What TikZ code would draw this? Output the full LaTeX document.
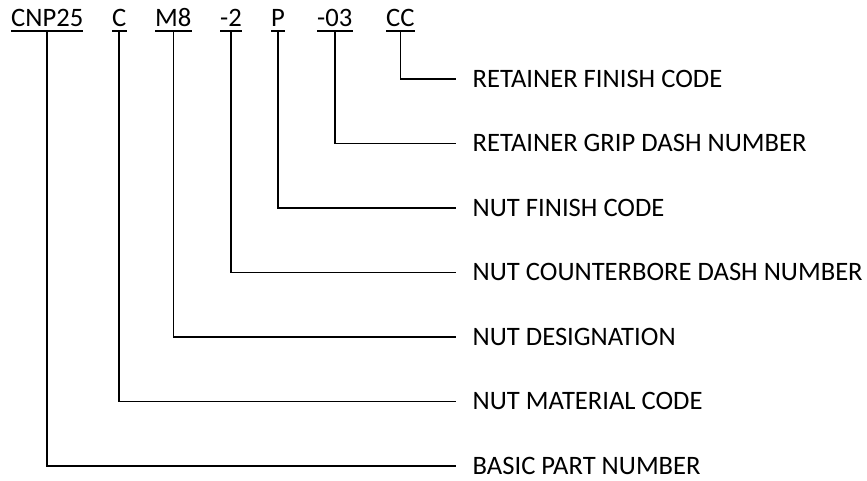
\documentclass[tikz,border=0pt]{standalone}
\usepackage{fontspec}
\setmainfont{Carlito}
\begin{document}
\begin{tikzpicture}[x=1pt,y=-1pt,
	every node/.style={font=\fontsize{26.6}{31}\selectfont},
	part/.style={anchor=base west,inner xsep=0pt,inner ysep=4.3pt,text height=17pt,text depth=0pt},
	field/.style={anchor=west,inner xsep=16.5pt,inner ysep=0pt,text height=17pt,text depth=0pt},
	lead/.style={line width=1.6pt}]
	\useasboundingbox (0,0) rectangle (867,481);
	% part number code
	\node[part] (cnp) at (11,26.7) {CNP25};
	\node[part] (mat) at (112,26.7) {C};
	\node[part] (des) at (155,26.7) {M8};
	\node[part] (cbore) at (220,26.7) {-2};
	\node[part] (nfin) at (271,26.7) {P};
	\node[part] (grip) at (317,26.7) {-03};
	\node[part] (rfin) at (386,26.7) {CC};
	% field names
	\node[field] (rfinL) at (456,79) {RETAINER FINISH CODE};
	\node[field] (gripL) at (456,143.5) {RETAINER GRIP DASH NUMBER};
	\node[field] (nfinL) at (456,208) {NUT FINISH CODE};
	\node[field] (cboreL) at (456,272.4) {NUT COUNTERBORE DASH NUMBER};
	\node[field] (desL) at (456,336.8) {NUT DESIGNATION};
	\node[field] (matL) at (456,401.3) {NUT MATERIAL CODE};
	\node[field] (cnpL) at (456,465.7) {BASIC PART NUMBER};
	% underlines
	\draw [lead] (cnp.south west) -- (cnp.south east);
	\draw [lead] (mat.south west) -- (mat.south east);
	\draw [lead] (des.south west) -- (des.south east);
	\draw [lead] (cbore.south west) -- (cbore.south east);
	\draw [lead] (nfin.south west) -- (nfin.south east);
	\draw [lead] (grip.south west) -- (grip.south east);
	\draw [lead] (rfin.south west) -- (rfin.south east);
	% leaders
	\draw [lead] (rfin.south) |- (rfinL.west);
	\draw [lead] (grip.south) |- (gripL.west);
	\draw [lead] (nfin.south) |- (nfinL.west);
	\draw [lead] (cbore.south) |- (cboreL.west);
	\draw [lead] (des.south) |- (desL.west);
	\draw [lead] (mat.south) |- (matL.west);
	\draw [lead] (cnp.south) |- (cnpL.west);
\end{tikzpicture}
\end{document}
